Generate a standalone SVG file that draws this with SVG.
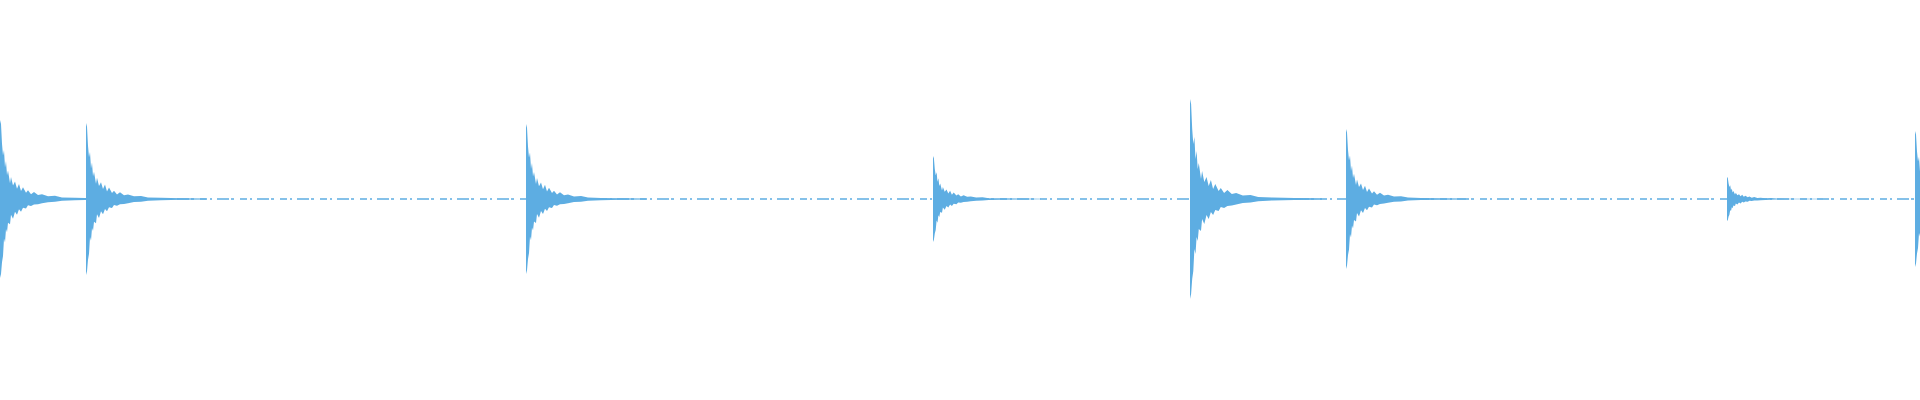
<svg xmlns="http://www.w3.org/2000/svg" width="1920" height="400" viewBox="0 0 1920 400">
<style>
.base{stroke:#5dade2;stroke-width:1.4;fill:none;stroke-dasharray:7 3 2 5 12 2 3 6}
.sp{fill:#5dade2}
</style>
<defs>
<path id="spike" d="M0,-1 L1,-0.95 L2,-0.7 L3,-0.55 L4,-0.62 L5,-0.4 L6,-0.48 L7,-0.3 L8,-0.36 L10,-0.2 L11,-0.28 L13,-0.17 L15,-0.22 L17,-0.13 L19,-0.19 L21,-0.1 L23,-0.15 L26,-0.08 L28,-0.11 L31,-0.06 L34,-0.09 L38,-0.05 L42,-0.06 L48,-0.035 L55,-0.04 L62,-0.02 L75,-0.015 L95,-0.01 L120,-0.008 L120,0.008 L95,0.01 L75,0.015 L62,0.022 L55,0.035 L48,0.04 L42,0.055 L38,0.065 L34,0.07 L31,0.09 L28,0.08 L26,0.12 L23,0.11 L21,0.16 L19,0.13 L17,0.2 L15,0.16 L13,0.25 L11,0.2 L10,0.32 L8,0.3 L7,0.42 L6,0.38 L5,0.55 L4,0.5 L3,0.72 L2,0.8 L1,0.95 L0,1 Z"/>
</defs>
<g id="baseline"><line class="base" x1="0" y1="199" x2="1920" y2="199"/></g>
<g id="spikes">
<use class="sp" href="#spike" transform="translate(0,199) scale(1,79)"/>
<use class="sp" href="#spike" transform="translate(86,199) scale(1,76)"/>
<use class="sp" href="#spike" transform="translate(526,199) scale(1,75)"/>
<use class="sp" href="#spike" transform="translate(933,199) scale(0.9,43)"/>
<use class="sp" href="#spike" transform="translate(1190,199) scale(1.1,100)"/>
<use class="sp" href="#spike" transform="translate(1346,199) scale(1,70)"/>
<use class="sp" href="#spike" transform="translate(1727,199) scale(0.8,22)"/>
<use class="sp" href="#spike" transform="translate(1915,199) scale(1,68)"/>
</g>
</svg>
